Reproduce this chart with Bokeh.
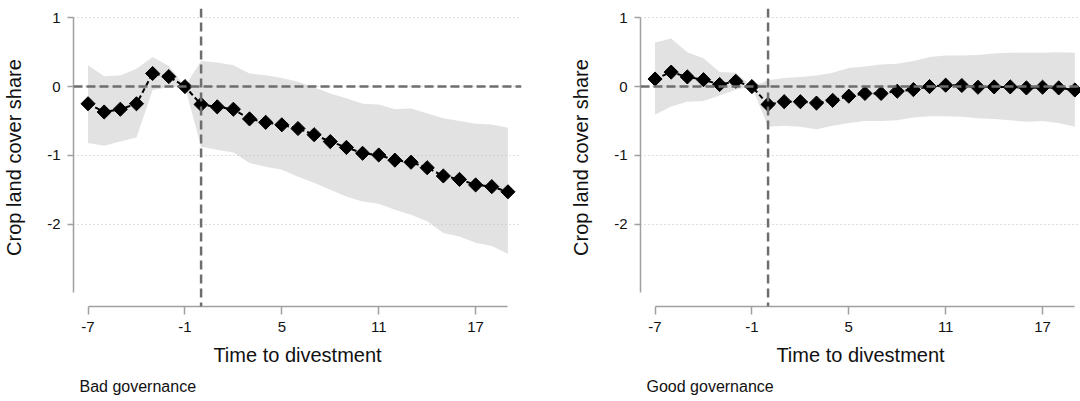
from bokeh.plotting import figure
from bokeh.layouts import row
from bokeh.models import Span, FixedTicker, Range1d, Title
from bokeh.embed import file_html
from bokeh.resources import INLINE

# ---- data -------------------------------------------------------------
time = [-7, -6, -5, -4, -3, -2, -1, 0, 1, 2, 3, 4, 5, 6, 7, 8, 9, 10,
        11, 12, 13, 14, 15, 16, 17, 18, 19]

bad_est = [-0.25, -0.37, -0.33, -0.25, 0.19, 0.145, 0.0, -0.26, -0.295, -0.33,
           -0.47, -0.52, -0.556, -0.61, -0.70, -0.80, -0.885, -0.97, -0.995,
           -1.07, -1.10, -1.18, -1.30, -1.35, -1.43, -1.455, -1.53]
bad_upper = [0.31, 0.15, 0.16, 0.26, 0.43, 0.30, 0.0, 0.37, 0.35, 0.31, 0.19,
             0.165, 0.125, 0.07, -0.015, -0.10, -0.17, -0.25, -0.26, -0.33,
             -0.32, -0.39, -0.46, -0.50, -0.54, -0.55, -0.60]
bad_lower = [-0.82, -0.86, -0.80, -0.74, -0.05, -0.01, 0.0, -0.875, -0.92,
             -0.96, -1.11, -1.165, -1.21, -1.31, -1.40, -1.50, -1.60, -1.67,
             -1.705, -1.79, -1.865, -1.96, -2.13, -2.18, -2.27, -2.32, -2.43]

good_est = [0.11, 0.21, 0.14, 0.10, 0.03, 0.077, 0.0, -0.26, -0.22, -0.22,
            -0.24, -0.20, -0.14, -0.10, -0.10, -0.068, -0.044, 0.0, 0.02,
            0.015, -0.01, -0.005, -0.005, -0.02, -0.01, -0.02, -0.05]
good_upper = [0.64, 0.70, 0.50, 0.41, 0.21, 0.20, 0.0, 0.09, 0.125, 0.14, 0.16,
              0.20, 0.27, 0.29, 0.32, 0.33, 0.37, 0.43, 0.45, 0.45, 0.46, 0.48,
              0.49, 0.49, 0.49, 0.50, 0.49]
good_lower = [-0.41, -0.29, -0.22, -0.21, -0.13, -0.045, 0.0, -0.585, -0.57,
              -0.585, -0.62, -0.57, -0.53, -0.50, -0.50, -0.49, -0.45, -0.43,
              -0.43, -0.44, -0.46, -0.47, -0.49, -0.51, -0.50, -0.53, -0.585]

x_ticks = [-7, -1, 5, 11, 17]
x_tick_labels = ["-7", "-1", "5", "11", "17"]
y_ticks = [-2, -1, 0, 1]
y_tick_labels = ["-2", "-1", "0", "1"]
x_label = "Time to divestment"
y_label = "Crop land cover share"
panel_titles = ["Bad governance", "Good governance"]

FONT = "Liberation Sans"
AXIS_COLOR = "#a0a0a0"
REF_COLOR = "#6e6e6e"


def make_panel(est, upper, lower, title, width, x_start, x_end, border_right):
    p = figure(width=width, height=401, output_backend="svg",
               toolbar_location=None,
               x_range=Range1d(x_start, x_end),
               y_range=Range1d(-3.198, 1.135),
               min_border_left=71, min_border_right=border_right,
               min_border_top=8, min_border_bottom=94)
    p.outline_line_color = None
    p.background_fill_color = "white"
    p.border_fill_color = "white"

    p.xgrid.visible = False
    p.ygrid.ticker = FixedTicker(ticks=y_ticks)
    p.ygrid.grid_line_color = "#bdbdbd"
    p.ygrid.grid_line_dash = "1 3"
    p.ygrid.grid_line_width = 1

    hline = Span(location=0, dimension="width", line_color=REF_COLOR,
                 line_width=2.5, line_dash="9 4")
    p.add_layout(hline)

    p.varea(x=time, y1=lower, y2=upper, fill_color="#c6c6c6", fill_alpha=0.5)

    vline = Span(location=0, dimension="height", line_color=REF_COLOR,
                 line_width=2.5, line_dash="9 5")
    p.add_layout(vline)

    p.line(time, est, line_color="black", line_width=2, line_dash="5 3")
    p.scatter(time, est, marker="square", angle=0.785398, size=10,
              fill_color="black", line_color="black")

    # x axis
    xa = p.xaxis[0]
    xa.ticker = FixedTicker(ticks=x_ticks)
    xa.major_label_overrides = {float(k): v for k, v in zip(x_ticks, x_tick_labels)}
    xa.bounds = (-7, 19)
    xa.axis_label = x_label
    # y axis
    ya = p.yaxis[0]
    ya.ticker = FixedTicker(ticks=y_ticks)
    ya.major_label_overrides = {float(k): v for k, v in zip(y_ticks, y_tick_labels)}
    ya.bounds = (-3, 1)
    ya.axis_label = y_label

    for ax in (xa, ya):
        ax.axis_line_color = AXIS_COLOR
        ax.axis_line_width = 1.5
        ax.major_tick_line_color = AXIS_COLOR
        ax.major_tick_line_width = 1.5
        ax.major_tick_in = 0
        ax.minor_tick_line_color = None
        ax.major_label_text_font = FONT
        ax.major_label_text_font_size = "15px"
        ax.major_label_text_color = "#111111"
        ax.axis_label_text_font = FONT
        ax.axis_label_text_font_size = "20px"
        ax.axis_label_text_font_style = "normal"
        ax.axis_label_text_color = "#111111"
    xa.major_tick_out = 8
    xa.major_label_standoff = 7
    xa.axis_label_standoff = 9
    ya.major_tick_out = 6
    ya.major_label_standoff = 7
    ya.axis_label_standoff = 19

    t = Title(text=title, align="left", offset=6, text_font=FONT,
              text_font_size="16px", text_font_style="normal",
              text_color="#111111", standoff=14)
    p.add_layout(t, "below")
    return p


p1 = make_panel(bad_est, bad_upper, bad_lower, panel_titles[0],
                width=567, x_start=-7.9, x_end=19.84, border_right=46)
p2 = make_panel(good_est, good_upper, good_lower, panel_titles[1],
                width=513, x_start=-7.9, x_end=19.35, border_right=0)

p = row(p1, p2)
open("out.html", "w").write(file_html(p, INLINE))
